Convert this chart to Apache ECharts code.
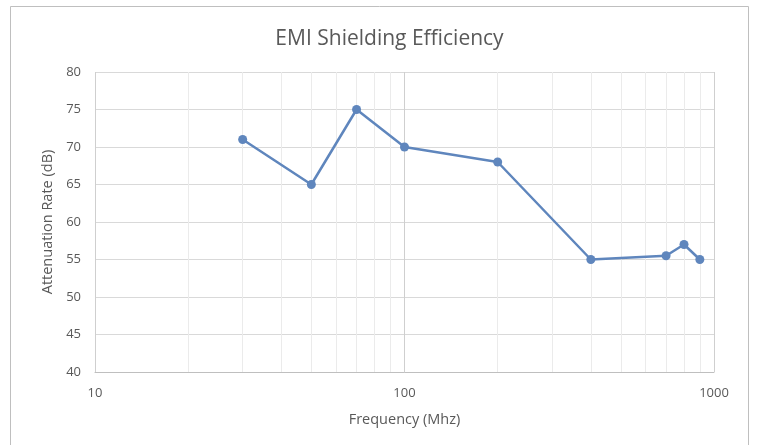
<!DOCTYPE html>
<html><head><meta charset="utf-8">
<script src="https://cdn.jsdelivr.net/npm/echarts@6/dist/echarts.min.js"></script>
<style>html,body{margin:0;padding:0;background:#fff}#c{width:779px;height:445px}</style>
</head><body><div id="c"></div>
<script>
const frequencies = [30, 50, 70, 100, 200, 400, 700, 800, 900];
const attenuation = [71, 65, 75, 70, 68, 55, 55.5, 57, 55];
const minorGridFreqs = [20, 30, 40, 50, 60, 70, 80, 90, 200, 300, 400, 500, 600, 700, 800, 900];
const titleText = 'EMI Shielding Efficiency';
const xTitle = 'Frequency (Mhz)';
const yTitle = 'Attenuation Rate (dB)';

const font = 'Open Sans';
const chart = echarts.init(document.getElementById('c'));
chart.setOption({
  animation: false,
  graphic: [{
    type: 'rect', shape: {x: 10.5, y: 6.5, width: 738, height: 450},
    style: {fill: 'none', stroke: '#bfbfbf', lineWidth: 1}, silent: true, z: -10
  }],
  title: {
    text: titleText, left: 'center', top: 24,
    textStyle: {fontFamily: font, fontSize: 21, fontWeight: 'normal', color: '#595959'}
  },
  grid: {left: 95, right: 65, top: 72, bottom: 73},
  xAxis: {
    type: 'log', logBase: 10, min: 10, max: 1000,
    name: xTitle, nameLocation: 'middle', nameGap: 40,
    nameTextStyle: {fontFamily: font, fontSize: 14.5, color: '#595959'},
    axisLine: {show: true, lineStyle: {color: '#bfbfbf'}},
    axisTick: {show: false},
    axisLabel: {fontFamily: font, fontSize: 13, color: '#595959', margin: 15,
      formatter: v => String(Math.round(v))},
    splitLine: {show: true, lineStyle: {color: '#cfcfcf', width: 1}}
  },
  yAxis: {
    type: 'value', min: 40, max: 80, interval: 5,
    name: yTitle, nameLocation: 'middle', nameGap: 38,
    nameTextStyle: {fontFamily: font, fontSize: 14.5, color: '#595959'},
    axisLine: {show: false}, axisTick: {show: false},
    axisLabel: {fontFamily: font, fontSize: 13, color: '#595959', margin: 14},
    splitLine: {show: true, lineStyle: {color: '#d9d9d9', width: 1}}
  },
  series: [{
    type: 'line', data: [], z: 0, silent: true,
    markLine: {
      silent: true, symbol: 'none', animation: false, z: 0,
      label: {show: false},
      lineStyle: {color: '#ebebeb', width: 1, type: 'solid'},
      emphasis: {disabled: true},
      data: minorGridFreqs.map(f => ({xAxis: f}))
    }
  }, {
    type: 'line', z: 5,
    data: frequencies.map((f, i) => [f, attenuation[i]]),
    symbol: 'circle', symbolSize: 9,
    lineStyle: {color: '#5f86bd', width: 2.5},
    itemStyle: {color: '#5f86bd'}
  }]
});
</script></body></html>
